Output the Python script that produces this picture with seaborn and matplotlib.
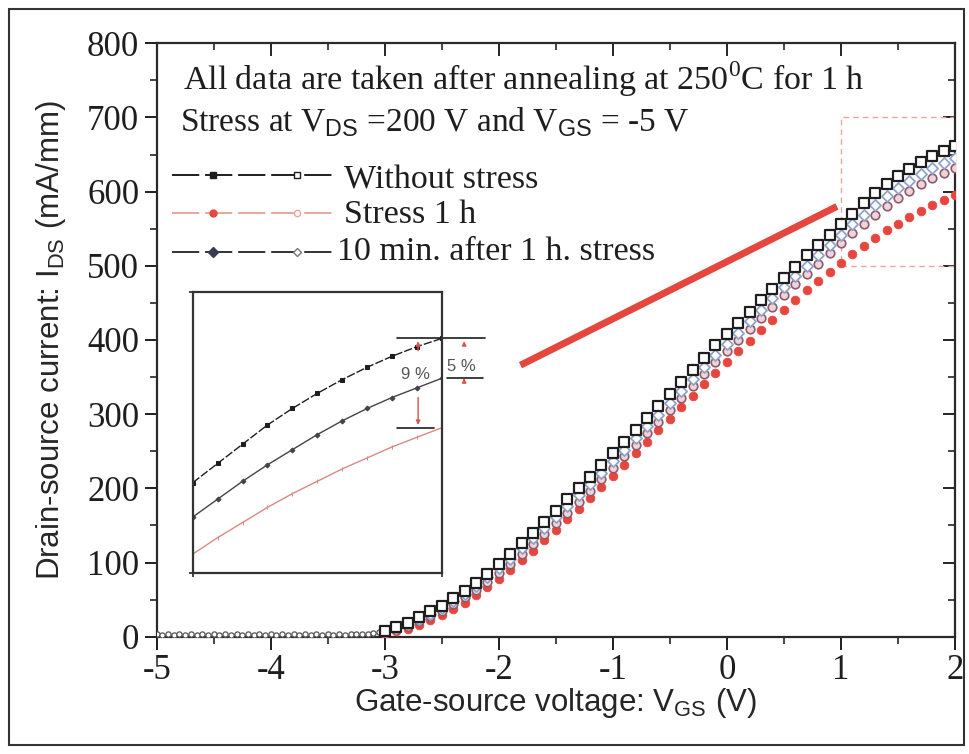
import numpy as np
import matplotlib.pyplot as plt
import seaborn as sns
from matplotlib.patches import Rectangle

# Gate sweep (V) used for the on-state markers
VGS = np.round(np.arange(-3.0, 2.01, 0.1), 1)

# Drain current (mA/mm)
IDS_NO_STRESS = [8, 13, 19, 26, 34, 42, 52, 62, 73, 85,
                 98, 111, 126, 140, 154, 169, 185, 200, 215, 231,
                 247, 263, 279, 295, 311, 327, 343, 359, 376, 393,
                 408, 423, 438, 454, 469, 484, 499, 514, 528, 542,
                 556, 570, 584, 598, 610, 621, 631, 640, 648, 655, 661]
IDS_10MIN_A = [7, 12, 17, 24, 31, 39, 48, 58, 68, 80,
               92, 105, 119, 133, 147, 161, 176, 191, 206, 221,
               237, 252, 268, 284, 299, 315, 331, 347, 363, 380,
               395, 410, 425, 441, 456, 471, 486, 500, 514, 528,
               542, 556, 569, 582, 594, 605, 615, 624, 632, 639, 646]
IDS_10MIN_B = [6, 10, 15, 21, 28, 35, 44, 53, 63, 74,
               86, 98, 111, 125, 139, 153, 167, 182, 197, 212,
               228, 243, 259, 274, 290, 306, 322, 338, 354, 370,
               385, 400, 415, 430, 445, 460, 475, 489, 503, 517,
               531, 544, 557, 569, 580, 591, 601, 610, 618, 625, 632]
IDS_STRESS_1H = [4, 7, 11, 16, 22, 29, 37, 46, 56, 67,
                 78, 90, 103, 116, 130, 144, 158, 172, 187, 202,
                 217, 232, 248, 263, 279, 294, 310, 325, 340, 355,
                 370, 385, 399, 413, 427, 441, 454, 467, 480, 492,
                 504, 516, 527, 538, 548, 557, 566, 574, 582, 589, 596]

# Off-state (below threshold) readings
VGS_OFF = np.round(np.arange(-5.0, -3.0, 0.05), 2)
IDS_OFF = [3, 2, 3, 2, 3, 2, 3, 2, 3, 2,
           3, 2, 3, 2, 3, 2, 3, 2, 3, 2,
           3, 2, 3, 2, 3, 2, 3, 2, 3, 2,
           3, 2, 3, 2, 3, 3, 4, 4, 5, 6]

# Inset markers for percentage drop (at Vgs = 2 V)
DROP_LABELS = ["9 %", "5 %"]

BLACK = "#1e1e1e"
RED = "#e5473e"
PINK = "#e9a59f"
BLUE = "#8fa3c9"
MAUVE = "#8e5b6c"

sns.set_theme(style="ticks")
plt.rcParams["font.family"] = ["Liberation Serif", "DejaVu Serif"]
plt.rcParams["mathtext.fontset"] = "custom"
plt.rcParams["mathtext.rm"] = "Liberation Serif"
plt.rcParams["mathtext.sf"] = "Liberation Sans"
plt.rcParams["axes.unicode_minus"] = False

fig = plt.figure(figsize=(9.69, 7.54), dpi=100)
ax = fig.add_axes([0.1617, 0.1556, 0.8238, 0.787])

# off-state wiggle
sns.scatterplot(x=VGS_OFF, y=IDS_OFF, ax=ax, marker="o", s=14,
                facecolor="white", edgecolor="#555555", linewidth=0.9, zorder=3)

# on-state curves
sns.scatterplot(x=VGS, y=IDS_STRESS_1H, ax=ax, marker="o", s=40,
                color=RED, edgecolor=RED, linewidth=0.5, zorder=3)
sns.scatterplot(x=VGS, y=IDS_10MIN_B, ax=ax, marker="o", s=38,
                facecolor="#f1d3da", edgecolor=MAUVE, linewidth=1.2, zorder=4)
sns.scatterplot(x=VGS, y=IDS_10MIN_A, ax=ax, marker="D", s=32,
                facecolor="white", edgecolor=BLUE, linewidth=1.3, zorder=5)
sns.scatterplot(x=VGS, y=IDS_NO_STRESS, ax=ax, marker="s", s=44,
                facecolor="white", edgecolor=BLACK, linewidth=1.6, zorder=6)

ax.set_xlim(-5, 2)
ax.set_ylim(0, 800)
ax.set_xticks(range(-5, 3))
ax.set_yticks(range(0, 801, 100))
ax.set_xticks(np.arange(-4.5, 2, 1.0), minor=True)
ax.set_yticks(range(50, 800, 100), minor=True)
ax.tick_params(axis="both", which="major", direction="out", length=9, width=1.4,
               labelsize=25, colors=BLACK)
ax.tick_params(axis="both", which="minor", direction="out", length=5, width=1.2)
for sp in ax.spines.values():
    sp.set_visible(True)
    sp.set_linewidth(1.6)
    sp.set_color("#2a2a2a")

# mirrored inward ticks on top and right
top = ax.secondary_xaxis("top")
top.set_xticks(range(-5, 3))
top.set_xticks(np.arange(-4.5, 2, 1.0), minor=True)
top.tick_params(which="major", direction="in", length=9, width=1.4, labeltop=False)
top.tick_params(which="minor", direction="in", length=5, width=1.2)
right = ax.secondary_yaxis("right")
right.set_yticks(range(0, 801, 100))
right.set_yticks(range(50, 800, 100), minor=True)
right.tick_params(which="major", direction="in", length=9, width=1.4, labelright=False)
right.tick_params(which="minor", direction="in", length=5, width=1.2)

ax.set_xlabel(r"Gate-source voltage: V$_{\mathsf{GS}}$ (V)", family="Liberation Sans",
              fontsize=22.5, labelpad=-1)
ax.set_ylabel(r"Drain-source current: I$_{\mathsf{DS}}$ (mA/mm)", family="Liberation Sans",
              fontsize=22.5, labelpad=14)

# zoom box and connector
ax.add_patch(Rectangle((1, 500), 1, 200, fill=False, edgecolor=PINK,
                       linestyle=(0, (4, 3)), linewidth=1.0, zorder=2))
ax.plot([-1.81, 0.965], [366, 580], color=RED, linewidth=5, solid_capstyle="butt", zorder=2)

# header text
ax.text(0.0333, 0.9213, r"All data are taken after annealing at 250$^{0}$C for 1 h",
        transform=ax.transAxes, fontsize=24.5, va="baseline", color=BLACK)
ax.text(0.0292, 0.851, r"Stress at V$_{\mathsf{DS}}$ =200 V and V$_{\mathsf{GS}}$ = -5 V",
        transform=ax.transAxes, fontsize=24, va="baseline", color=BLACK)

# hand-made legend rows
rows = [
    ("Without stress", 0.778, 0.7556, BLACK, "s", BLACK, "white", BLACK),
    ("Stress 1 h", 0.7135, 0.6967, PINK, "o", RED, "white", PINK),
    ("10 min. after 1 h. stress", 0.6488, 0.6348, "#333333", "D", "#3b3b55", "white", "#777777"),
]
for label, ly, tb, lc, mk, fill1, fill2, edge2 in rows:
    ax.plot([0.0188, 0.2234], [ly, ly], transform=ax.transAxes, color=lc,
            linewidth=1.4, linestyle=(0, (14, 3)), clip_on=False, zorder=7)
    ax.plot([0.071], [ly], transform=ax.transAxes, marker=mk, markersize=5,
            color=fill1, markeredgecolor=fill1, linestyle="none", zorder=8)
    ax.plot([0.1754], [ly], transform=ax.transAxes, marker=mk, markersize=4.5,
            markerfacecolor=fill2, markeredgecolor=edge2, markeredgewidth=1.0,
            linestyle="none", zorder=8)
    tx = 0.226 if label.startswith("10") else 0.235
    ax.text(tx, tb, label, transform=ax.transAxes, fontsize=24.5, va="baseline", color=BLACK)

# inset: zoom of 1..2 V
axin = fig.add_axes([0.1989, 0.2396, 0.257, 0.3735])
sel = VGS >= 1.0
xin = VGS[sel]
sns.lineplot(x=xin, y=np.array(IDS_NO_STRESS)[sel], ax=axin, color=BLACK,
             linewidth=1.0, linestyle=(0, (6, 1.5)), marker="s", markersize=2.5,
             markeredgecolor=BLACK)
sns.lineplot(x=xin, y=np.array(IDS_10MIN_B)[sel], ax=axin, color="#444444",
             linewidth=1.0, marker="D", markersize=2.5, markeredgecolor="#444444")
sns.lineplot(x=xin, y=np.array(IDS_STRESS_1H)[sel], ax=axin, color="#d98a84",
             linewidth=1.0, marker="|", markersize=3, markeredgecolor="#d98a84")
axin.set_xlim(1, 2)
axin.set_ylim(490, 695)
axin.set_xticks([1, 2])
axin.set_yticks([490, 695])
axin.tick_params(length=3, width=1.2, labelbottom=False, labelleft=False, direction="out")
for sp in axin.spines.values():
    sp.set_visible(True)
    sp.set_linewidth(1.6)
    sp.set_color("#333333")

# drop markers
top_i, mid_i, low_i = IDS_NO_STRESS[-1], IDS_10MIN_B[-1], IDS_STRESS_1H[-1]
axin.plot([1.82, 2.175], [top_i, top_i], color=BLACK, linewidth=1.2, clip_on=False)
axin.plot([2.02, 2.167], [mid_i, mid_i], color=BLACK, linewidth=1.2, clip_on=False)
axin.plot([1.82, 1.97], [low_i, low_i], color=BLACK, linewidth=1.2, clip_on=False)
arrow = dict(arrowstyle="-|>", color="#d9544c", lw=1.0, mutation_scale=6)
axin.annotate("", xy=(1.905, top_i), xytext=(1.905, 650), arrowprops=arrow, annotation_clip=False)
axin.annotate("", xy=(1.905, low_i), xytext=(1.905, 620), arrowprops=arrow, annotation_clip=False)
axin.annotate("", xy=(2.09, top_i), xytext=(2.09, 654), arrowprops=arrow, annotation_clip=False)
axin.annotate("", xy=(2.09, mid_i), xytext=(2.09, 630), arrowprops=arrow, annotation_clip=False)
axin.text(1.893, 634.6, DROP_LABELS[0], family="Liberation Sans", fontsize=12,
          color="#555555", ha="center", va="center", clip_on=False)
axin.text(2.08, 640.6, DROP_LABELS[1], family="Liberation Sans", fontsize=12,
          color="#555555", ha="center", va="center", clip_on=False)

# outer frame of the figure
fig.patches.append(Rectangle((9 / 969, 9 / 754), 955 / 969, 736 / 754, transform=fig.transFigure,
                             fill=False, edgecolor="#333333", linewidth=1.5))

fig.savefig("out.png", dpi=100)
